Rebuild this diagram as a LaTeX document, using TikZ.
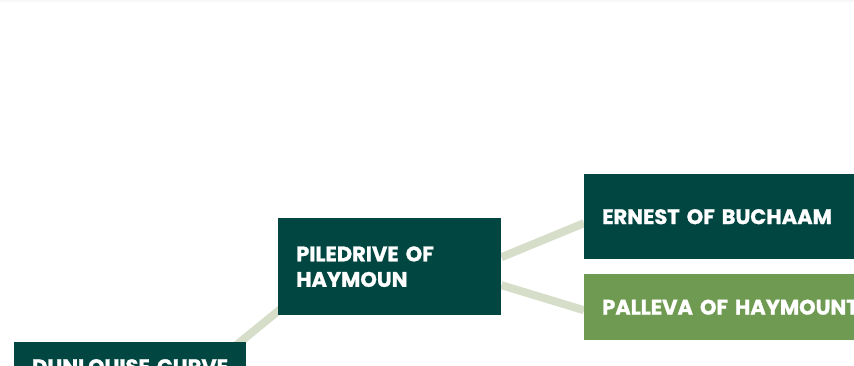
\documentclass[tikz,border=0pt]{standalone}
\usepackage{fontspec}
\setmainfont{Poppins}[BoldFeatures={FakeBold=1.2}]
\usetikzlibrary{calc}
\pgfdeclarelayer{bg}
\pgfsetlayers{bg,main}
\definecolor{darkteal}{RGB}{1,70,64}
\definecolor{leafgreen}{RGB}{111,154,82}
\definecolor{sage}{RGB}{214,222,201}
\definecolor{topband}{RGB}{247,247,247}
\tikzset{
  box/.style={rectangle, fill=darkteal, text=white, anchor=north west,
    inner xsep=18pt, inner ysep=0pt, align=left,
    font=\fontsize{21}{25.5}\selectfont\bfseries},
  greenbox/.style={box, fill=leafgreen},
  link/.style={draw=sage, line width=8pt}
}
\begin{document}
\begin{tikzpicture}[x=1pt,y=-1pt]
\useasboundingbox (0,0) rectangle (854,366);
\clip (0,0) rectangle (854,366);
\fill[topband] (0,0) rectangle (854,2.5);
% nodes
\node[box, minimum width=232pt, minimum height=49pt, text width=196pt] (dun) at (14,342) {DUNLOUISE CURVE};
\node[box, minimum width=223pt, minimum height=97pt, text width=187pt] (pile) at (278,218) {PILEDRIVE OF\\HAYMOUN};
\node[box, minimum width=300pt, minimum height=85pt, text width=264pt] (ern) at (584,174) {ERNEST OF BUCHAAM};
\node[greenbox, minimum width=300pt, minimum height=66pt, text width=264pt] (pal) at (584,274) {PALLEVA OF HAYMOUNT};
% connector end points
\coordinate (dunA) at ($(dun.north east)+(-16,8)$);
\coordinate (pileA) at ($(pile.south west)+(12,-14)$);
\coordinate (pileB) at ($(pile.east)+(0,-9.5)$);
\coordinate (pileC) at ($(pile.east)+(0,18.5)$);
\coordinate (ernA) at ($(ern.west)+(0,6.5)$);
\coordinate (palA) at ($(pal.west)+(0,3)$);
\begin{pgfonlayer}{bg}
\draw[link] (dunA) -- (pileA);
\draw[link] (pileB) -- (ernA);
\draw[link] (pileC) -- (palA);
\end{pgfonlayer}
\end{tikzpicture}
\end{document}
